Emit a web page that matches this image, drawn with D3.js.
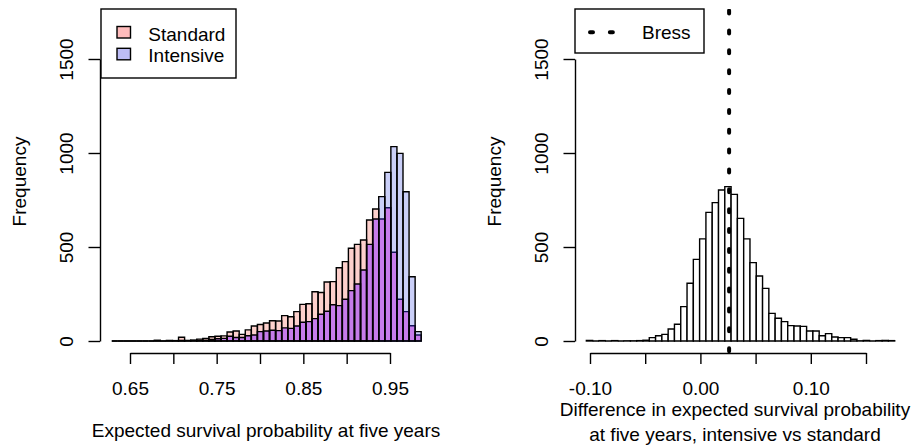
<!DOCTYPE html>
<html>
<head>
<meta charset="utf-8">
<script src="https://cdnjs.cloudflare.com/ajax/libs/d3/7.8.5/d3.min.js"></script>
<style>
body { margin: 0; background: #fff; }
text { font-family: "Liberation Sans", Arial, sans-serif; font-size: 19px; fill: #000; }
</style>
</head>
<body>
<script>
// ---------------- data ----------------

// left panel: expected survival probability at five years
let leftBreakStart = 0.629
let leftBinWidth = 0.007
let standardCounts = [
    0, 0, 0, 0, 0, 0, 0, 4, 0, 3,
    2, 20, 3, 5, 10, 14, 23, 25, 27, 48,
    53, 35, 59, 80, 88, 96, 108, 106, 135, 129,
    156, 195, 198, 262, 258, 314, 316, 390, 422, 493,
    514, 537, 644, 702, 649, 709, 472, 222, 156, 81,
    32
]
let intensiveCounts = [
    0, 0, 0, 0, 0, 0, 0, 0, 0, 0,
    0, 3, 1, 2, 3, 4, 8, 12, 14, 25,
    19, 19, 28, 32, 50, 53, 57, 55, 70, 67,
    80, 100, 103, 119, 142, 158, 193, 188, 222, 268,
    303, 378, 514, 649, 768, 897, 1034, 998, 794, 342,
    50
]
let legendLabels = ["Standard", "Intensive"]

// right panel: difference, intensive vs standard
let rightBreakStart = -0.1033
let rightBinWidth = 0.0057
let diffCounts = [
    3, 0, 2, 0, 2, 0, 1, 1, 2, 4,
    18, 28, 35, 64, 89, 183, 307, 434, 543, 684,
    736, 803, 821, 780, 652, 543, 417, 346, 280, 147,
    121, 103, 82, 80, 78, 53, 53, 28, 39, 21,
    18, 18, 9, 1, 3, 0, 2, 3, 2
]
let bressValue = 0.026
let bressLabel = "Bress"

// axes
let yTicks = [0, 500, 1000, 1500]
let leftTicks = [0.65, 0.70, 0.75, 0.80, 0.85, 0.90, 0.95]
let leftTickLabels = ["0.65", "", "0.75", "", "0.85", "", "0.95"]
let rightTicks = [-0.10, -0.05, 0.00, 0.05, 0.10, 0.15]
let rightTickLabels = ["-0.10", "", "0.00", "", "0.10", ""]

// ---------------- drawing ----------------
let w = 916
let h = 448

let pinkOnly = "#fdd0cc"
let blueOnly = "#cacff8"
let overlap = "#c67ceb"
let legendPink = "#ffbcbc"
let legendBlue = "#bcbcf6"

let svg = d3.select("body")
    .append("svg")
    .attr("width", w)
    .attr("height", h)

let y = d3.scaleLinear().domain([0, 1500]).range([341, 59])
let xL = d3.scaleLinear().domain([0.65, 0.95]).range([130, 390])
let xR = d3.scaleLinear().domain([-0.10, 0.15]).range([590, 866])

let leftBins = standardCounts.map((s, i) => ({
    x0: leftBreakStart + i * leftBinWidth,
    x1: leftBreakStart + (i + 1) * leftBinWidth,
    std: s,
    int: intensiveCounts[i]
}))
let rightBins = diffCounts.map((c, i) => ({
    x0: rightBreakStart + i * rightBinWidth,
    x1: rightBreakStart + (i + 1) * rightBinWidth,
    n: c
}))

// outline path so that empty bins still show as a line on the baseline
let barPath = (x, x0, x1, v) =>
    `M${x(x0)},${y(0)}V${y(v)}H${x(x1)}V${y(0)}Z`

// left histogram: taller colour, then the overlap, then outlines
let gl = svg.append("g")
gl.selectAll("rect.top")
    .data(leftBins)
    .enter()
    .append("rect")
        .attr("x", d => xL(d.x0))
        .attr("width", d => xL(d.x1) - xL(d.x0))
        .attr("y", d => y(Math.max(d.std, d.int)))
        .attr("height", d => y(0) - y(Math.max(d.std, d.int)))
        .attr("fill", d => d.std >= d.int ? pinkOnly : blueOnly)

gl.selectAll("rect.both")
    .data(leftBins)
    .enter()
    .append("rect")
        .attr("x", d => xL(d.x0))
        .attr("width", d => xL(d.x1) - xL(d.x0))
        .attr("y", d => y(Math.min(d.std, d.int)))
        .attr("height", d => y(0) - y(Math.min(d.std, d.int)))
        .attr("fill", overlap)

gl.selectAll("path.std")
    .data(leftBins)
    .enter()
    .append("path")
        .attr("d", d => barPath(xL, d.x0, d.x1, d.std))
        .attr("fill", "none")
        .attr("stroke", d => d.int > d.std ? "#15155a" : "#000")
        .attr("stroke-width", 1.4)

gl.selectAll("path.int")
    .data(leftBins)
    .enter()
    .append("path")
        .attr("d", d => barPath(xL, d.x0, d.x1, d.int))
        .attr("fill", "none")
        .attr("stroke", "#000")
        .attr("stroke-width", 1.4)

// right histogram
svg.append("g")
    .selectAll("path")
    .data(rightBins)
    .enter()
    .append("path")
        .attr("d", d => barPath(xR, d.x0, d.x1, d.n))
        .attr("fill", "#fff")
        .attr("stroke", "#000")
        .attr("stroke-width", 1.4)

// Bress line (dotted, thick)
svg.append("defs").append("clipPath").attr("id", "rclip")
    .append("rect").attr("x", 575).attr("y", 9).attr("width", 322).attr("height", 345)
svg.append("line")
    .attr("clip-path", "url(#rclip)")
    .attr("x1", xR(bressValue)).attr("x2", xR(bressValue))
    .attr("y1", 351.2).attr("y2", 0)
    .attr("stroke", "#000")
    .attr("stroke-width", 4)
    .attr("stroke-linecap", "round")
    .attr("stroke-dasharray", "3 16.86")

// axes
let styleAxis = g => {
    g.attr("font-size", null).attr("font-family", null)
    g.selectAll("line, path").attr("stroke", "#000").attr("stroke-width", 1.4)
    g.selectAll("text").attr("fill", "#000")
}

let yAxis = d3.axisLeft(y).tickValues(yTicks).tickSize(11.5).tickSizeOuter(0)
    .tickFormat(d3.format("d"))

;[100, 575].forEach(ax => {
    let g = svg.append("g")
        .attr("transform", `translate(${ax},0)`)
        .call(yAxis)
        .call(styleAxis)
    g.selectAll(".tick text")
        .attr("transform", "rotate(-90)")
        .attr("x", 0)
        .attr("y", -27.3)
        .attr("dy", null)
        .attr("text-anchor", "middle")
    g.append("text")
        .attr("transform", "rotate(-90)")
        .attr("x", -181.5)
        .attr("y", -74)
        .attr("text-anchor", "middle")
        .text("Frequency")
})

svg.append("g")
    .attr("transform", "translate(0,353)")
    .call(d3.axisBottom(xL).tickValues(leftTicks).tickSize(11).tickSizeOuter(0)
        .tickPadding(17.2).tickFormat((d, i) => leftTickLabels[i]))
    .call(styleAxis)

svg.append("g")
    .attr("transform", "translate(0,353)")
    .call(d3.axisBottom(xR).tickValues(rightTicks).tickSize(11).tickSizeOuter(0)
        .tickPadding(17.2).tickFormat((d, i) => rightTickLabels[i]))
    .call(styleAxis)

// axis titles
svg.append("text")
    .attr("x", 266).attr("y", 437)
    .attr("text-anchor", "middle")
    .text("Expected survival probability at five years")

svg.append("text")
    .attr("x", 735).attr("y", 416)
    .attr("text-anchor", "middle")
    .text("Difference in expected survival probability")
svg.append("text")
    .attr("x", 735).attr("y", 441)
    .attr("text-anchor", "middle")
    .text("at five years, intensive vs standard")

// left legend
svg.append("rect")
    .attr("x", 101).attr("y", 9).attr("width", 135).attr("height", 69)
    .attr("fill", "#fff").attr("stroke", "#000").attr("stroke-width", 1.4)

svg.selectAll("rect.key")
    .data(legendLabels)
    .enter()
    .append("rect")
        .attr("x", 117)
        .attr("y", (d, i) => 26.5 + i * 21.8)
        .attr("width", 13.5)
        .attr("height", 11.5)
        .attr("fill", (d, i) => i === 0 ? legendPink : legendBlue)
        .attr("stroke", "#000")
        .attr("stroke-width", 1.4)

svg.selectAll("text.key")
    .data(legendLabels)
    .enter()
    .append("text")
        .attr("x", 148.3)
        .attr("y", (d, i) => 40.5 + i * 21.8)
        .text(d => d)

// right legend
svg.append("rect")
    .attr("x", 575).attr("y", 9).attr("width", 129).attr("height", 44)
    .attr("fill", "#fff").attr("stroke", "#000").attr("stroke-width", 1.4)
svg.append("line")
    .attr("x1", 590).attr("x2", 620)
    .attr("y1", 32.3).attr("y2", 32.3)
    .attr("stroke", "#000")
    .attr("stroke-width", 4)
    .attr("stroke-linecap", "round")
    .attr("stroke-dasharray", "3 16.86")
svg.append("text")
    .attr("x", 642).attr("y", 39)
    .text(bressLabel)
</script>
</body>
</html>
